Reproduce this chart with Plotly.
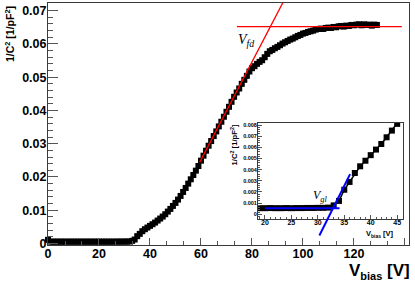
import plotly.graph_objects as go

# ---------------- data ----------------
vbias = list(range(0, 130))
inv_c2 = [
    0.00110, 0.00056, 0.00055, 0.00056, 0.00055, 0.00055, 0.00056, 0.00055, 0.00055, 0.00056,
    0.00055, 0.00055, 0.00056, 0.00055, 0.00055, 0.00056, 0.00055, 0.00055, 0.00056, 0.00055,
    0.00055, 0.00056, 0.00055, 0.00055, 0.00056, 0.00055, 0.00056, 0.00056, 0.00057, 0.00057,
    0.00058, 0.00058, 0.00060, 0.00080, 0.00120, 0.00220, 0.00290, 0.00370, 0.00430, 0.00480,
    0.00530, 0.00580, 0.00630, 0.00690, 0.00750, 0.00810, 0.00880, 0.00960, 0.01040, 0.01130,
    0.01220, 0.01320, 0.01430, 0.01550, 0.01670, 0.01800, 0.01930, 0.02060, 0.02190, 0.02330,
    0.02490, 0.02640, 0.02790, 0.02940, 0.03080, 0.03230, 0.03370, 0.03520, 0.03660, 0.03810,
    0.03960, 0.04110, 0.04260, 0.04410, 0.04540, 0.04660, 0.04800, 0.04920, 0.05040, 0.05170,
    0.05270, 0.05330, 0.05400, 0.05460, 0.05510, 0.05600, 0.05700, 0.05780, 0.05820, 0.05870,
    0.05910, 0.05960, 0.06010, 0.06050, 0.06090, 0.06130, 0.06160, 0.06200, 0.06240, 0.06270,
    0.06310, 0.06330, 0.06360, 0.06380, 0.06400, 0.06430, 0.06450, 0.06460, 0.06450, 0.06480,
    0.06490, 0.06480, 0.06510, 0.06500, 0.06530, 0.06540, 0.06520, 0.06550, 0.06540, 0.06570,
    0.06560, 0.06580, 0.06590, 0.06560, 0.06590, 0.06570, 0.06580, 0.06550, 0.06580, 0.06570,
]

# fit lines (end points)
fd_slope_v = [59.5, 93.0]
fd_slope_y = [0.0244, 0.0737]
fd_flat_v = [74.1, 138.8]
fd_flat_y = [0.0652, 0.0652]
gl_flat_v = [20.0, 34.1]
gl_flat_y = [0.00054, 0.00054]
gl_slope_v = [30.3, 36.1]
gl_slope_y = [-0.0019, 0.0036]

main_x_ticks = [0, 20, 40, 60, 80, 100, 120, 140]
main_y_ticks = [0, 0.01, 0.02, 0.03, 0.04, 0.05, 0.06, 0.07]
main_y_labels = ["0", "0.01", "0.02", "0.03", "0.04", "0.05", "0.06", "0.07"]
inset_x_ticks = [20, 25, 30, 35, 40, 45]
inset_y_ticks = [0, 0.001, 0.002, 0.003, 0.004, 0.005, 0.006, 0.007, 0.008]
inset_y_labels = ["0", "0.001", "0.002", "0.003", "0.004", "0.005", "0.006", "0.007", "0.008"]

# ---------------- layout geometry ----------------
W, H = 415, 281
ML, MR, MT, MB = 48, 6, 3, 36
PW, PH = W - ML - MR, H - MT - MB

def px_x(p):
    return (p - ML) / PW

def px_y(p):
    return (H - MB - p) / PH

SANS = "Liberation Sans, Arial, sans-serif"
SERIF = "Liberation Serif, Times New Roman, serif"
FRAME = "#3a3a3a"
TICKC = "#555555"

ix_dom = [px_x(258), px_x(403)]
iy_dom = [px_y(219), px_y(123)]
ix_rng = [18.7, 46.1]
iy_rng = [-0.00042, 0.00818]
# extended (invisible) y axis with the same scale as the inset, reaching lower
iy_ext_bottom = px_y(240)
scale = (iy_rng[1] - iy_rng[0]) / (iy_dom[1] - iy_dom[0])
iy4_rng = [iy_rng[0] - (iy_dom[0] - iy_ext_bottom) * scale, iy_rng[1]]

fig = go.Figure()

# main data
fig.add_trace(go.Scatter(
    x=vbias, y=inv_c2, mode="lines+markers",
    line=dict(color="black", width=1.5),
    marker=dict(symbol="square", size=6, color="black"),
    cliponaxis=False, xaxis="x", yaxis="y", showlegend=False))
fig.add_trace(go.Scatter(x=fd_slope_v, y=fd_slope_y, mode="lines",
                         line=dict(color="#ff0000", width=1.3), xaxis="x", yaxis="y", showlegend=False))
fig.add_trace(go.Scatter(x=fd_flat_v, y=fd_flat_y, mode="lines",
                         line=dict(color="#ff0000", width=1.3), xaxis="x", yaxis="y", showlegend=False))

# inset
fig.add_trace(go.Scatter(
    x=vbias, y=inv_c2, mode="lines+markers",
    line=dict(color="black", width=1.5),
    marker=dict(symbol="square", size=6, color="black"),
    xaxis="x2", yaxis="y2", showlegend=False))
fig.add_trace(go.Scatter(x=gl_flat_v, y=gl_flat_y, mode="lines",
                         line=dict(color="#0000ff", width=2), xaxis="x2", yaxis="y2", showlegend=False))
fig.add_trace(go.Scatter(x=gl_slope_v, y=gl_slope_y, mode="lines",
                         line=dict(color="#0000ff", width=2), xaxis="x3", yaxis="y3", showlegend=False))

common = dict(showgrid=False, zeroline=False, automargin=False)

fig.update_layout(
    template="none",
    width=W, height=H,
    margin=dict(l=ML, r=MR, t=MT, b=MB, autoexpand=False),
    paper_bgcolor="white", plot_bgcolor="rgba(0,0,0,0)",
    xaxis=dict(
        range=[0, 141.6], domain=[0, 1], anchor="y",
        tickmode="array", tickvals=main_x_ticks,
        ticks="inside", ticklen=7, tickwidth=1, tickcolor=TICKC,
        minor=dict(dtick=20 / 3, tick0=0, ticks="inside", ticklen=4, tickcolor=TICKC, showgrid=False),
        showline=True, linecolor=FRAME, linewidth=1, mirror=True,
        ticklabelstandoff=-3,
        tickfont=dict(family=SANS, size=12.5, color="black", weight="bold"),
        **common,
    ),
    yaxis=dict(
        range=[-0.00045, 0.0723], domain=[0, 1], anchor="x",
        tickmode="array", tickvals=main_y_ticks, ticktext=main_y_labels,
        ticks="inside", ticklen=10, tickwidth=1, tickcolor=TICKC,
        minor=dict(dtick=0.002, tick0=0, ticks="inside", ticklen=5, tickcolor=TICKC, showgrid=False),
        showline=True, linecolor=FRAME, linewidth=1, mirror=True,
        ticklabelstandoff=-2,
        tickfont=dict(family=SANS, size=12.5, color="black", weight="bold"),
        **common,
    ),
    xaxis2=dict(
        range=ix_rng, domain=ix_dom, anchor="y2",
        tickmode="array", tickvals=inset_x_ticks,
        ticks="inside", ticklen=4, tickwidth=1, tickcolor=TICKC,
        minor=dict(dtick=1, tick0=0, ticks="inside", ticklen=2, tickcolor=TICKC, showgrid=False),
        showline=True, linecolor=FRAME, linewidth=1, mirror=True,
        ticklabelstandoff=-3,
        tickfont=dict(family=SANS, size=7, color="black", weight="bold"),
        **common,
    ),
    yaxis2=dict(
        range=iy_rng, domain=iy_dom, anchor="x2",
        tickmode="array", tickvals=inset_y_ticks, ticktext=inset_y_labels,
        ticks="inside", ticklen=4, tickwidth=1, tickcolor=TICKC,
        minor=dict(dtick=0.0002, tick0=0, ticks="inside", ticklen=2, tickcolor=TICKC, showgrid=False),
        showline=True, linecolor=FRAME, linewidth=1, mirror=True,
        ticklabelstandoff=-1,
        tickfont=dict(family=SANS, size=5.5, color="black", weight="bold"),
        **common,
    ),
    xaxis3=dict(range=ix_rng, domain=ix_dom, anchor="y3", visible=False, **common),
    yaxis3=dict(range=iy4_rng, domain=[iy_ext_bottom, iy_dom[1]], anchor="x3", visible=False, **common),
)

annotations = [
    dict(text="V<sub><span style=\"font-size:11px\">bias</span></sub> [V]", xref="paper", yref="paper",
         x=px_x(412), y=px_y(259), xanchor="right", yanchor="top",
         showarrow=False, font=dict(family=SANS, size=17, color="black", weight="bold")),
    dict(text="1/C<sup>2</sup> [1/pF<sup>2</sup>]", xref="paper", yref="paper",
         x=px_x(9), y=px_y(4), xanchor="center", yanchor="top", textangle=-90,
         showarrow=False, font=dict(family=SANS, size=10.5, color="black", weight="bold")),
    dict(text="V<sub><span style=\"font-size:5px\">bias</span></sub> [V]", xref="paper", yref="paper",
         x=px_x(396), y=px_y(227), xanchor="right", yanchor="top",
         showarrow=False, font=dict(family=SANS, size=7.5, color="black", weight="bold")),
    dict(text="1/C<sup>2</sup> [1/pF<sup>2</sup>]", xref="paper", yref="paper",
         x=px_x(233), y=px_y(123), xanchor="center", yanchor="top", textangle=-90,
         showarrow=False, font=dict(family=SANS, size=7.7, color="black", weight="bold")),
    dict(text="<i>V</i><sub><i>fd</i></sub>", xref="x", yref="y",
         x=73.8, y=0.0609, xanchor="left", yanchor="middle",
         showarrow=False, font=dict(family=SERIF, size=14, color="black")),
    dict(text="<i>V</i><sub><i>gl</i></sub>", xref="x2", yref="y2",
         x=28.8, y=0.0016, xanchor="left", yanchor="middle",
         showarrow=False, font=dict(family=SERIF, size=12, color="black")),
]
fig.update_layout(annotations=annotations)

fig.write_html("out.html", config={"displayModeBar": False},
               post_script="document.body.style.margin='0px';document.body.style.padding='0px';")
